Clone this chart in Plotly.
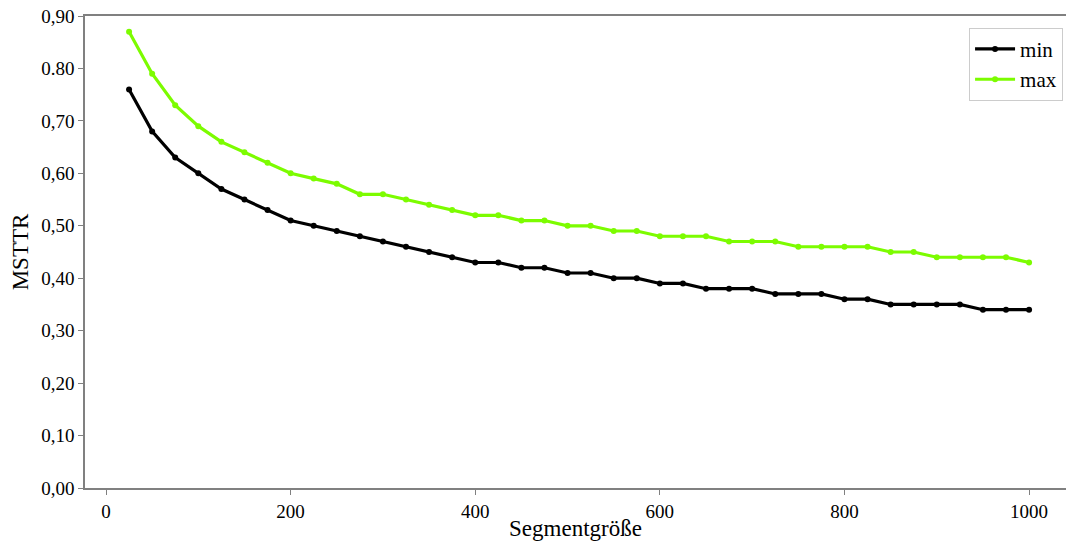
import plotly.graph_objects as go

segment_sizes = list(range(25, 1001, 25))
min_values = [0.76, 0.68, 0.63, 0.60, 0.57, 0.55, 0.53, 0.51, 0.50, 0.49,
              0.48, 0.47, 0.46, 0.45, 0.44, 0.43, 0.43, 0.42, 0.42, 0.41,
              0.41, 0.40, 0.40, 0.39, 0.39, 0.38, 0.38, 0.38, 0.37, 0.37,
              0.37, 0.36, 0.36, 0.35, 0.35, 0.35, 0.35, 0.34, 0.34, 0.34]
max_values = [0.87, 0.79, 0.73, 0.69, 0.66, 0.64, 0.62, 0.60, 0.59, 0.58,
              0.56, 0.56, 0.55, 0.54, 0.53, 0.52, 0.52, 0.51, 0.51, 0.50,
              0.50, 0.49, 0.49, 0.48, 0.48, 0.48, 0.47, 0.47, 0.47, 0.46,
              0.46, 0.46, 0.46, 0.45, 0.45, 0.44, 0.44, 0.44, 0.44, 0.43]
y_tick_vals = [0.0, 0.1, 0.2, 0.3, 0.4, 0.5, 0.6, 0.7, 0.8, 0.9]
y_tick_text = ["0,00", "0,10", "0,20", "0,30", "0,40", "0,50", "0,60", "0,70", "0.80", "0,90"]
x_tick_vals = [0, 200, 400, 600, 800, 1000]

font = "Liberation Serif, Times New Roman, serif"

fig = go.Figure()
fig.add_trace(go.Scatter(x=segment_sizes, y=min_values, name="min", mode="lines+markers",
                         line=dict(color="black", width=3.2), marker=dict(color="black", size=6)))
fig.add_trace(go.Scatter(x=segment_sizes, y=max_values, name="max", mode="lines+markers",
                         line=dict(color="#7cfc00", width=3.2), marker=dict(color="#7cfc00", size=6)))

fig.update_layout(
    width=1066, height=541,
    margin=dict(l=85, r=0, t=16, b=53),
    paper_bgcolor="white", plot_bgcolor="white",
    font=dict(family=font, size=19, color="black"),
    showlegend=True,
    legend=dict(x=0.997, y=0.975, xanchor="right", yanchor="top",
                bordercolor="#cccccc", borderwidth=1, bgcolor="white",
                font=dict(family=font, size=21), itemwidth=40),
    xaxis=dict(range=[-22.75, 1040], tickvals=x_tick_vals, showgrid=False, zeroline=False,
               showline=True, linecolor="#808080", linewidth=1.5, mirror=True,
               ticks="outside", ticklen=5, tickcolor="#808080",
               title=dict(text="Segmentgröße", standoff=4)),
    yaxis=dict(range=[0, 0.9], tickvals=y_tick_vals, ticktext=y_tick_text, showgrid=False,
               zeroline=False, showline=True, linecolor="#808080", linewidth=1.5,
               ticks="outside", ticklen=5, tickcolor="#808080",
               title=dict(text="MSTTR", standoff=6)),
)

fig.write_html("out.html")
